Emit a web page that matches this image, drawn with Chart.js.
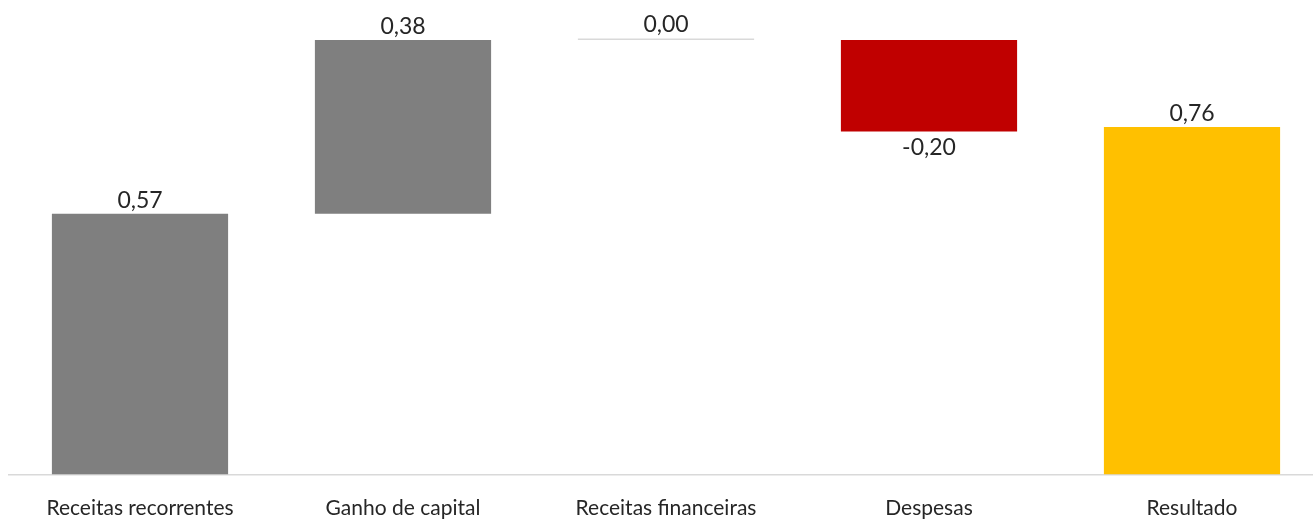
<!DOCTYPE html>
<html>
<head>
<meta charset="utf-8">
<script src="https://cdn.jsdelivr.net/npm/chart.js@4"></script>
<style>
  html, body { margin: 0; padding: 0; background: #fff; overflow: hidden; }
  #outer { width: 1313px; height: 519px; overflow: hidden; }
  #wrap { width: 1334px; height: 519px; position: relative; }
</style>
</head>
<body>
<div id="outer"><div id="wrap"><canvas id="waterfallChart"></canvas></div></div>
<script>
// Dados do gráfico
const categorias = ["Receitas recorrentes", "Ganho de capital", "Receitas financeiras", "Despesas", "Resultado"];
const valores = [0.57, 0.38, 0.00, -0.20, 0.76];
const ehTotal = [false, false, false, false, true];
const cores = ["#7f7f7f", "#7f7f7f", "#d9d9d9", "#c00000", "#ffc000"];

// Monta as barras flutuantes (cascata)
let acumulado = 0;
const barras = valores.map((v, i) => {
  if (ehTotal[i]) return [0, v];
  const ini = acumulado;
  acumulado = +(acumulado + v).toFixed(4);
  return [ini, acumulado];
});

const fonte = "Lato, 'Open Sans', sans-serif";

// Rótulos de valor acima/abaixo das barras
const rotulos = {
  id: "rotulos",
  afterDatasetsDraw(chart) {
    const { ctx } = chart;
    const meta = chart.getDatasetMeta(0);
    ctx.save();
    ctx.font = "23px " + fonte;
    ctx.fillStyle = "#262626";
    ctx.textAlign = "center";
    meta.data.forEach((bar, i) => {
      const txt = valores[i].toFixed(2).replace(".", ",");
      const props = bar.getProps(["x", "y", "base"], true);
      if (valores[i] < 0) {
        ctx.textBaseline = "top";
        ctx.fillText(txt, props.x, Math.max(props.y, props.base) + 5);
      } else {
        ctx.textBaseline = "bottom";
        ctx.fillText(txt, props.x, Math.min(props.y, props.base) - 2);
      }
    });
    ctx.restore();
  }
};

const ctx = document.getElementById("waterfallChart").getContext("2d");
const waterfallChart = new Chart(ctx, {
  type: "bar",
  data: {
    labels: categorias,
    datasets: [
      {
        data: barras,
        backgroundColor: cores,
        borderWidth: 0,
        barPercentage: 0.67,
        categoryPercentage: 1,
        minBarLength: 1.5,
      },
    ],
  },
  options: {
    responsive: true,
    maintainAspectRatio: false,
    animation: false,
    layout: { padding: { left: 8.5, right: 10.5, top: 0, bottom: 0 } },
    plugins: {
      legend: { display: false },
      tooltip: { enabled: false },
    },
    scales: {
      x: {
        grid: { display: false, drawTicks: false },
        border: { color: "#d9d9d9", width: 1.5 },
        ticks: {
          color: "#262626",
          font: { family: fonte, size: 21 },
          padding: 21,
          maxRotation: 0,
        },
        afterFit: (scale) => { scale.height = 44.5; },
      },
      y: {
        display: false,
        min: 0,
        max: 1.0375,
      },
    },
  },
  plugins: [rotulos],
});
</script>
</body>
</html>
